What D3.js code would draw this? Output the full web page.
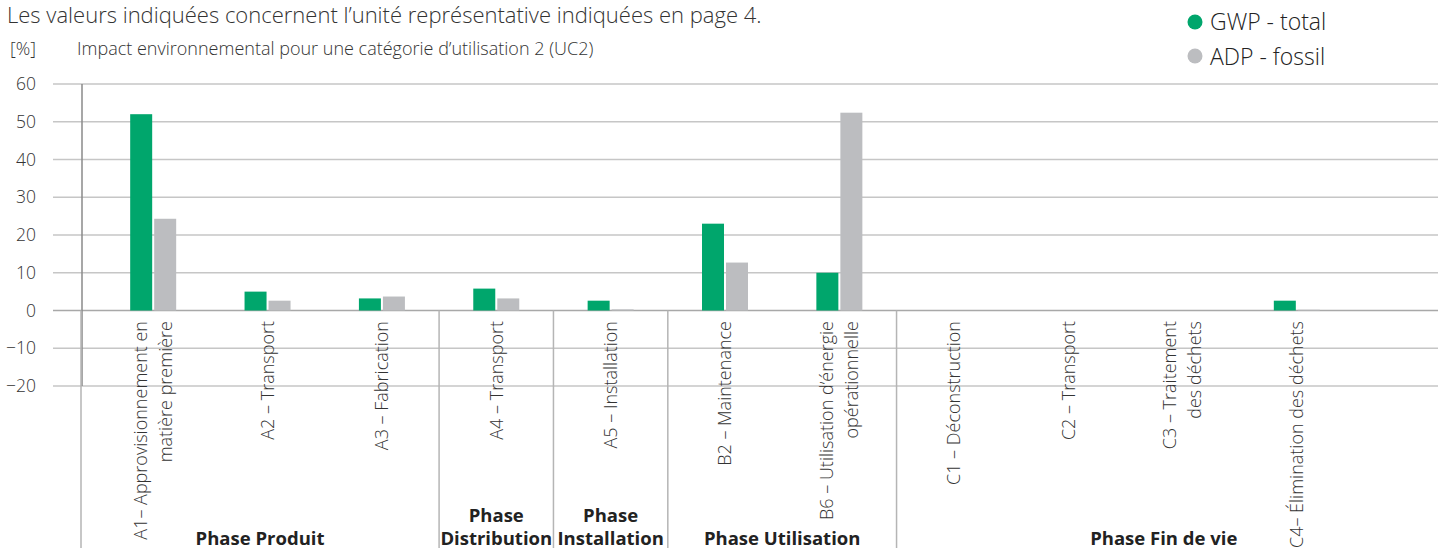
<!DOCTYPE html>
<html>
<head>
<meta charset="utf-8">
<script src="https://cdn.jsdelivr.net/npm/d3@7"></script>
<style>
  body { margin: 0; background: #fff; }
  svg { display: block; font-family: "Open Sans", "Noto Sans", sans-serif; }
</style>
</head>
<body>
<svg id="chart" width="1438" height="553"></svg>
<script>
// Chart data
const categories = ["A1", "A2", "A3", "A4", "A5", "B2", "B6", "C1", "C2", "C3", "C4"];
const categoryLabels = [
  ["A1– Approvisionnement en", "matière première"],
  ["A2 – Transport"],
  ["A3 – Fabrication"],
  ["A4 – Transport"],
  ["A5 – Installation"],
  ["B2 – Maintenance"],
  ["B6 – Utilisation d’énergie", "opérationnelle"],
  ["C1 – Déconstruction"],
  ["C2 – Transport"],
  ["C3 – Traitement", "des déchets"],
  ["C4– Élimination des déchets"]
];
const gwpTotal = [52, 5.0, 3.2, 5.8, 2.6, 23.0, 10.0, 0, 0, 0, 2.6];
const adpFossil = [24.3, 2.6, 3.7, 3.2, 0.3, 12.7, 52.4, 0, 0, 0, 0.2];
const phases = [
  { lines: ["Phase Produit"], from: "A1", to: "A3" },
  { lines: ["Phase", "Distribution"], from: "A4", to: "A4" },
  { lines: ["Phase", "Installation"], from: "A5", to: "A5" },
  { lines: ["Phase Utilisation"], from: "B2", to: "B6" },
  { lines: ["Phase Fin de vie"], from: "C1", to: "C4" }
];
const yTicks = [60, 50, 40, 30, 20, 10, 0, -10, -20];
const seriesNames = ["GWP - total", "ADP - fossil"];
const colors = ["#00a66c", "#bcbdc0"];

const width = 1438;
const height = 553;
const svg = d3.select("#chart");

// Scales
const xScale = d3.scaleBand()
  .domain(categories)
  .range([96, 1354]);

const yScale = d3.scaleLinear()
  .domain([-20, 60])
  .range([386, 84]);

const axisX = 82;
const barW = 22;

// Titles
svg.append("text")
  .attr("x", 7).attr("y", 23)
  .attr("font-size", "22px").attr("font-weight", 300)
  .attr("fill", "#333")
  .text("Les valeurs indiquées concernent l’unité représentative indiquées en page 4.");

svg.append("text")
  .attr("x", 10).attr("y", 55)
  .attr("font-size", "18px").attr("font-weight", 300)
  .attr("fill", "#333")
  .text("[%]");

svg.append("text")
  .attr("x", 77).attr("y", 55)
  .attr("font-size", "18px").attr("font-weight", 300)
  .attr("fill", "#333")
  .text("Impact environnemental pour une catégorie d’utilisation 2 (UC2)");

// Gridlines
svg.append("g")
  .selectAll("line")
  .data(yTicks)
  .join("line")
  .attr("x1", 53).attr("x2", width)
  .attr("y1", d => yScale(d)).attr("y2", d => yScale(d))
  .attr("stroke", d => d === 0 ? "#a8a8a8" : "#c6c6c6")
  .attr("stroke-width", 1.5);

// Y axis labels
const yAxis = d3.axisLeft(yScale).tickValues(yTicks).tickSize(0).tickPadding(0);
const yAxisG = svg.append("g")
  .attr("transform", "translate(36,0)")
  .call(yAxis);
yAxisG.select(".domain").remove();
yAxisG.selectAll("text")
  .attr("font-size", "17.5px")
  .attr("font-weight", 300)
  .attr("font-family", "'Open Sans', 'Noto Sans', sans-serif")
  .attr("fill", "#333");

// Vertical axis line
svg.append("line")
  .attr("x1", axisX).attr("x2", axisX)
  .attr("y1", yScale(60)).attr("y2", yScale(-20))
  .attr("stroke", "#8a8a8a").attr("stroke-width", 1.5);

// Phase separators
const phaseEdges = [axisX - 1];
phases.slice(1).forEach(p => phaseEdges.push(xScale(p.from)));
svg.append("g")
  .selectAll("line")
  .data(phaseEdges)
  .join("line")
  .attr("x1", d => d).attr("x2", d => d)
  .attr("y1", yScale(0)).attr("y2", 548)
  .attr("stroke", "#b5b5b5").attr("stroke-width", 1.5);

// Bars
const series = [gwpTotal, adpFossil];
series.forEach((vals, si) => {
  svg.append("g")
    .selectAll("rect")
    .data(vals.map((v, i) => ({ cat: categories[i], v })))
    .join("rect")
    .attr("x", d => xScale(d.cat) + xScale.bandwidth() / 2 - barW - 1 + si * (barW + 2))
    .attr("width", barW)
    .attr("y", d => yScale(Math.max(0, d.v)))
    .attr("height", d => Math.abs(yScale(d.v) - yScale(0)))
    .attr("fill", colors[si]);
});

// Category labels (rotated)
categories.forEach((c, i) => {
  const lines = categoryLabels[i];
  const cx = xScale(c) + xScale.bandwidth() / 2;
  lines.forEach((t, li) => {
    const dx = (li - (lines.length - 1) / 2) * 25;
    svg.append("text")
      .attr("transform", `translate(${cx + dx},321) rotate(-90)`)
      .attr("text-anchor", "end")
      .attr("dy", "0.36em")
      .attr("font-size", "18px")
      .attr("font-weight", 300)
      .attr("fill", "#333")
      .text(t);
  });
});

// Phase labels
const rightEdge = width - 7;
phases.forEach((p, i) => {
  const x0 = phaseEdges[i];
  const x1 = i < phases.length - 1 ? phaseEdges[i + 1] : rightEdge;
  const cx = (x0 + x1) / 2;
  p.lines.forEach((t, li) => {
    svg.append("text")
      .attr("x", cx)
      .attr("y", 545 - (p.lines.length - 1 - li) * 23)
      .attr("text-anchor", "middle")
      .attr("font-size", "18.5px")
      .attr("font-weight", 700)
      .attr("fill", "#222")
      .text(t);
  });
});

// Legend
const legend = svg.append("g").attr("transform", "translate(1195,0)");
seriesNames.forEach((name, i) => {
  legend.append("circle")
    .attr("cx", 0).attr("cy", 22 + i * 34)
    .attr("r", 7.5)
    .attr("fill", colors[i]);
  legend.append("text")
    .attr("x", 15).attr("y", 30 + i * 35)
    .attr("font-size", "23px")
    .attr("font-weight", 300)
    .attr("fill", "#222")
    .text(name);
});
</script>
</body>
</html>
